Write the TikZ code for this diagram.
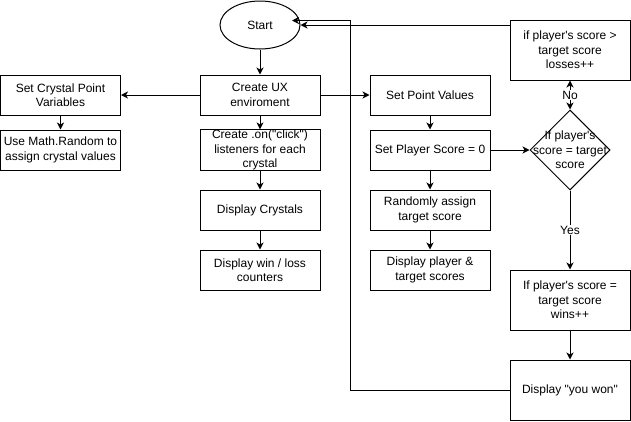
\documentclass[tikz,border=0pt]{standalone}
\usepackage{fontspec}
\setmainfont{Liberation Sans}[Ligatures=TeXOff]
\usetikzlibrary{shapes.geometric,arrows.meta}
\begin{document}
\begin{tikzpicture}[x=1pt,y=-1pt,
  every node/.style={font=\fontsize{12}{14.5}\selectfont, align=center, inner sep=0pt},
  box/.style={draw, line width=1pt, minimum width=120pt, minimum height=40pt},
  tallbox/.style={box, minimum height=60pt},
  arr/.style={line width=1pt, -{Stealth[length=7pt,width=7pt,inset=2pt]}},
  barr/.style={line width=1pt, {Stealth[length=7pt,width=7pt,inset=2pt]}-{Stealth[length=7pt,width=7pt,inset=2pt]}},
  lbl/.style={fill=white, inner sep=1pt}]
\useasboundingbox (0,0) rectangle (631,421);
\node[draw, line width=1pt, ellipse, minimum width=80pt, minimum height=48pt] (start) at (260,25) {Start};
\node[box] (ux) at (260,95) {Create UX\\enviroment};
\node[box] (crys) at (60.5,95) {Set Crystal Point\\Variables};
\node[box] (rnd) at (60.5,150) {Use Math.Random to\\assign crystal values};
\node[box] (click) at (260,150) {Create .on("click")\\listeners for each\\crystal};
\node[box] (disp) at (260,210) {Display Crystals};
\node[box] (wl) at (260,270) {Display win / loss\\counters};
\node[box] (pv) at (430,95) {Set Point Values};
\node[box] (ps) at (430,150) {Set Player Score = 0};
\node[box] (ra) at (430,210) {Randomly assign\\target score};
\node[box] (dp) at (430,270) {Display player \&\\target scores};
\node[draw, line width=1pt, diamond, minimum width=80pt, minimum height=80pt, aspect=1] (dec) at (570,150) {};
\node at (dec) {If player's\\score = target\\score};
\node[tallbox] (loss) at (570,50) {if player's score >\\target score\\losses++};
\node[tallbox] (win) at (570,300) {If player's score =\\target score\\wins++};
\node[tallbox] (won) at (570,390) {Display "you won"};
\coordinate (starttip) at (292,20.5);
\coordinate (loopcorner) at (350.5,20.5);
\draw[arr] (start) -- (ux);
\draw[arr] (ux) -- (crys);
\draw[arr] (crys) -- (rnd);
\draw[arr] (ux) -- (click);
\draw[arr] (click) -- (disp);
\draw[arr] (disp) -- (wl);
\draw[arr] (ux) -- (pv);
\draw[arr] (pv) -- (ps);
\draw[arr] (ps) -- (ra);
\draw[arr] (ra) -- (dp);
\draw[arr] (ps) -- (dec);
\draw[barr] (dec.north) -- node[lbl] {No} (loss.south);
\draw[arr] (dec.south) -- node[lbl] {Yes} (win.north);
\draw[arr] (win) -- (won);
\draw[arr] (loss.west |- start.east) -- (start.east);
\draw[arr] (won.west) -| (loopcorner) -- (starttip);
\end{tikzpicture}
\end{document}
